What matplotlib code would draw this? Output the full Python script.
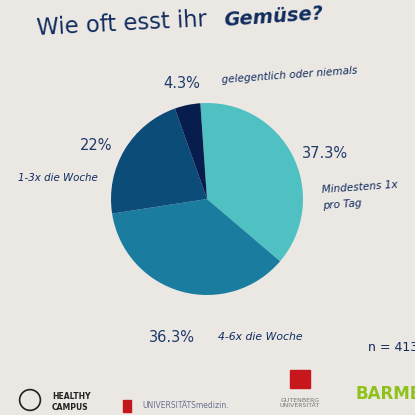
import matplotlib.pyplot as plt
import matplotlib.patches as mpatches

# data
labels = ['Mindestens 1x\npro Tag', '4-6x die Woche', '1-3x die Woche', 'gelegentlich oder niemals']
shares = [37.3, 36.3, 22.0, 4.3]
pct_text = ['37.3%', '36.3%', '22%', '4.3%']
colors = ['#4fc1c2', '#1a7d9f', '#0b4c79', '#071d4e']
n_total = 'n = 4139'

W = H = 415
bg = '#ebe7e3'
navy = '#102c5e'
txt = '#1f3a6a'
hand = dict(family=['Liberation Sans Narrow', 'DejaVu Sans'], style='italic', color=navy)

def px(x, y):
    return x / W, 1 - y / H

fig = plt.figure(figsize=(4.15, 4.15), dpi=100, facecolor=bg)

# pie
cx, cy, r = 207, 199, 96
ax = fig.add_axes([(cx - r) / W, (H - cy - r) / H, 2 * r / W, 2 * r / H])
ax.pie(shares, colors=colors, startangle=94, counterclock=False,
       wedgeprops=dict(linewidth=0))
ax.set_xlim(-1, 1)
ax.set_ylim(-1, 1)
ax.set_aspect('equal')
ax.axis('off')

# title
fig.text(*px(37, 35), 'Wie oft esst ihr', fontsize=16.3, color=navy, rotation=3,
         rotation_mode='anchor', ha='left', va='baseline', family='DejaVu Sans')
fig.text(*px(224, 26), 'Gemüse?', fontsize=14, rotation=4, rotation_mode='anchor',
         ha='left', va='baseline', fontweight='bold', **hand)

# percentages
fig.text(*px(182, 83), pct_text[3], fontsize=10.5, color=txt, ha='center', va='center')
fig.text(*px(96, 145), pct_text[2], fontsize=10.5, color=txt, ha='center', va='center')
fig.text(*px(325, 153), pct_text[0], fontsize=10.5, color=txt, ha='center', va='center')
fig.text(*px(172, 337), pct_text[1], fontsize=10.5, color=txt, ha='center', va='center')

# category labels
fig.text(*px(222, 80), labels[3], fontsize=7.6, ha='left', va='center', rotation=4,
         rotation_mode='anchor', **hand)
fig.text(*px(18, 178), labels[2], fontsize=7.4, ha='left', va='center', **hand)
fig.text(*px(322, 198), labels[0], fontsize=7.6, ha='left', va='center', linespacing=1.7,
         rotation=4, rotation_mode='anchor', **hand)
fig.text(*px(218, 337), labels[1], fontsize=7.8, ha='left', va='center', **hand)

fig.text(*px(368, 347), n_total, fontsize=9, color=navy, ha='left', va='center')

# logos (rough)
fig.text(*px(52, 402), 'HEALTHY\nCAMPUS', fontsize=5.5, color='#222222', ha='left', va='center',
         fontweight='bold', linespacing=1.3)
fig.add_artist(mpatches.Circle(px(30, 400), 0.025, transform=fig.transFigure,
                               fill=False, ec='#222222', lw=1.2))
fig.add_artist(mpatches.Rectangle(px(123, 412), 8 / W, 12 / H, transform=fig.transFigure,
                                  color='#c3161c'))
fig.text(*px(142, 405), 'UNIVERSITÄTSmedizin.', fontsize=5.5, color='#6a7290', ha='left', va='center')
fig.add_artist(mpatches.Rectangle(px(290, 388), 20 / W, 18 / H, transform=fig.transFigure,
                                  color='#c8161d'))
fig.text(*px(300, 403), 'GUTENBERG\nUNIVERSITÄT', fontsize=4.5, color='#777777', ha='center', va='center',
         linespacing=1.0)
fig.text(*px(355, 394), 'BARMER', fontsize=12, color='#8ec21a', ha='left', va='center', fontweight='bold')

fig.savefig('out.png', dpi=100, facecolor=bg)
